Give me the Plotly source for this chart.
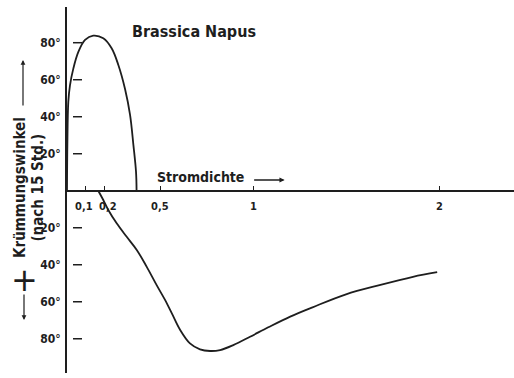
import plotly.graph_objects as go

# Curve 1: positive curvature at low current density
pos_x = [0.0, 0.002, 0.007, 0.016, 0.034, 0.061, 0.097, 0.141, 0.195, 0.24, 0.276, 0.312, 0.339, 0.357, 0.371, 0.374]
pos_y = [0, 25, 48, 57, 66, 75, 81.5, 83.8, 82.4, 77, 68, 55, 41, 24.7, 10.3, 0]

# Curve 2: negative curvature at higher current density
neg_x = [0.168, 0.195, 0.222, 0.267, 0.321, 0.375, 0.428, 0.482, 0.527, 0.567, 0.607, 0.661, 0.715,
         0.769, 0.823, 0.894, 0.984, 1.082, 1.20, 1.32, 1.50, 1.68, 1.86, 1.99]
neg_y = [0, -5, -10.4, -17.6, -24.9, -32, -41, -51, -59, -67, -75, -82.5, -85.7,
         -86.6, -86.1, -83.4, -78.9, -73.8, -68, -63, -56, -51, -46.5, -44]

x_tickvals = [0.1, 0.2, 0.5, 1, 2]
x_ticktext = ["0,1", "0,2", "0,5", "1", "2"]
y_tickvals = [80, 60, 40, 20, -20, -40, -60, -80]
y_ticktext = ["80°", "60°", "40°", "20°", "20°", "40°", "60°", "80°"]

title_text = "Brassica Napus"
x_title = "Stromdichte"
y_title = "Krümmungswinkel"
y_subtitle = "(nach 15 Std.)"

ink = "#1e1e1e"
font_family = "DejaVu Sans Condensed, DejaVu Sans, sans-serif"
label_font = dict(family=font_family, size=11, color=ink, weight="bold")

X_RANGE = [0, 2.403]
Y_RANGE = [-98.5, 99.3]

fig = go.Figure()
for xs, ys in ((pos_x, pos_y), (neg_x, neg_y)):
    fig.add_trace(go.Scatter(x=xs, y=ys, mode="lines",
                             line=dict(color=ink, width=1.8, shape="spline", smoothing=1.0),
                             hoverinfo="skip"))

# short dashes beside the vertical axis, one per y tick
shapes = []
for v in y_tickvals:
    shapes.append(dict(type="line", xref="paper", yref="y", x0=0.0134, x1=0.0336, y0=v, y1=v,
                       line=dict(color=ink, width=1.5)))

zero_pos = (0 - Y_RANGE[0]) / (Y_RANGE[1] - Y_RANGE[0])

annotations = [
    dict(x=0.339, y=85.8, xref="x", yref="y", text=title_text, showarrow=False,
         xanchor="left", yanchor="middle",
         font=dict(family=font_family, size=16, color=ink, weight="bold")),
    dict(x=0.473, y=7.4, xref="x", yref="y", text=x_title, showarrow=False,
         xanchor="left", yanchor="middle",
         font=dict(family=font_family, size=14, color=ink, weight="bold")),
    # arrow after the x-axis label
    dict(x=1.17, y=5.8, xref="x", yref="y", ax=-32, ay=0, text="", showarrow=True,
         arrowhead=2, arrowsize=0.8, arrowwidth=1.3, arrowcolor=ink),
    # rotated y-axis titles
    dict(x=0, y=1.5, xref="paper", yref="y", xshift=-47, text=y_title, showarrow=False,
         textangle=-90, xanchor="center", yanchor="middle",
         font=dict(family=font_family, size=15, color=ink, weight="bold")),
    dict(x=0, y=1.7, xref="paper", yref="y", xshift=-29, text=y_subtitle, showarrow=False,
         textangle=-90, xanchor="center", yanchor="middle",
         font=dict(family=font_family, size=15, color=ink, weight="bold")),
    # up arrow above the title
    dict(x=0, y=(190.7 - 60) / 1.85, xref="paper", yref="y", xshift=-44, ax=0, ay=47,
         text="", showarrow=True, arrowhead=2, arrowsize=0.8, arrowwidth=1.2, arrowcolor=ink),
    # plus sign and down arrow below the title
    dict(x=0, y=(190.7 - 280) / 1.85, xref="paper", yref="y", xshift=-43, text="+",
         showarrow=False, xanchor="center", yanchor="middle",
         font=dict(family="DejaVu Sans", size=32, color=ink)),
    dict(x=0, y=(190.7 - 320) / 1.85, xref="paper", yref="y", xshift=-43, ax=0, ay=-27,
         text="", showarrow=True, arrowhead=2, arrowsize=0.8, arrowwidth=1.2, arrowcolor=ink),
]

# x tick labels sit just under the axis; the first two are nudged apart
label_nudge = [-2, 4, 0, 0, 0]
for v, t, dx in zip(x_tickvals, x_ticktext, label_nudge):
    annotations.append(dict(x=v, y=0, xref="x", yref="y", text=t, showarrow=False,
                            xanchor="center", yanchor="top", yshift=-7, xshift=dx,
                            font=label_font))

fig.update_layout(
    width=514, height=378,
    margin=dict(l=67, r=0, t=7, b=5),
    paper_bgcolor="white", plot_bgcolor="white",
    showlegend=False,
    shapes=shapes,
    annotations=annotations,
    xaxis=dict(range=X_RANGE, showgrid=False, zeroline=False,
               showline=True, linecolor=ink, linewidth=2,
               anchor="free", position=zero_pos,
               tickvals=x_tickvals, showticklabels=False,
               ticks="inside", ticklen=4, tickwidth=1.2, tickcolor=ink),
    yaxis=dict(range=Y_RANGE, showgrid=False, zeroline=False,
               showline=True, linecolor=ink, linewidth=2,
               tickvals=y_tickvals, ticktext=y_ticktext, ticks="",
               ticklabelstandoff=2,
               tickfont=dict(family=font_family, size=12, color=ink, weight="bold")),
)

fig.write_html("out.html")
